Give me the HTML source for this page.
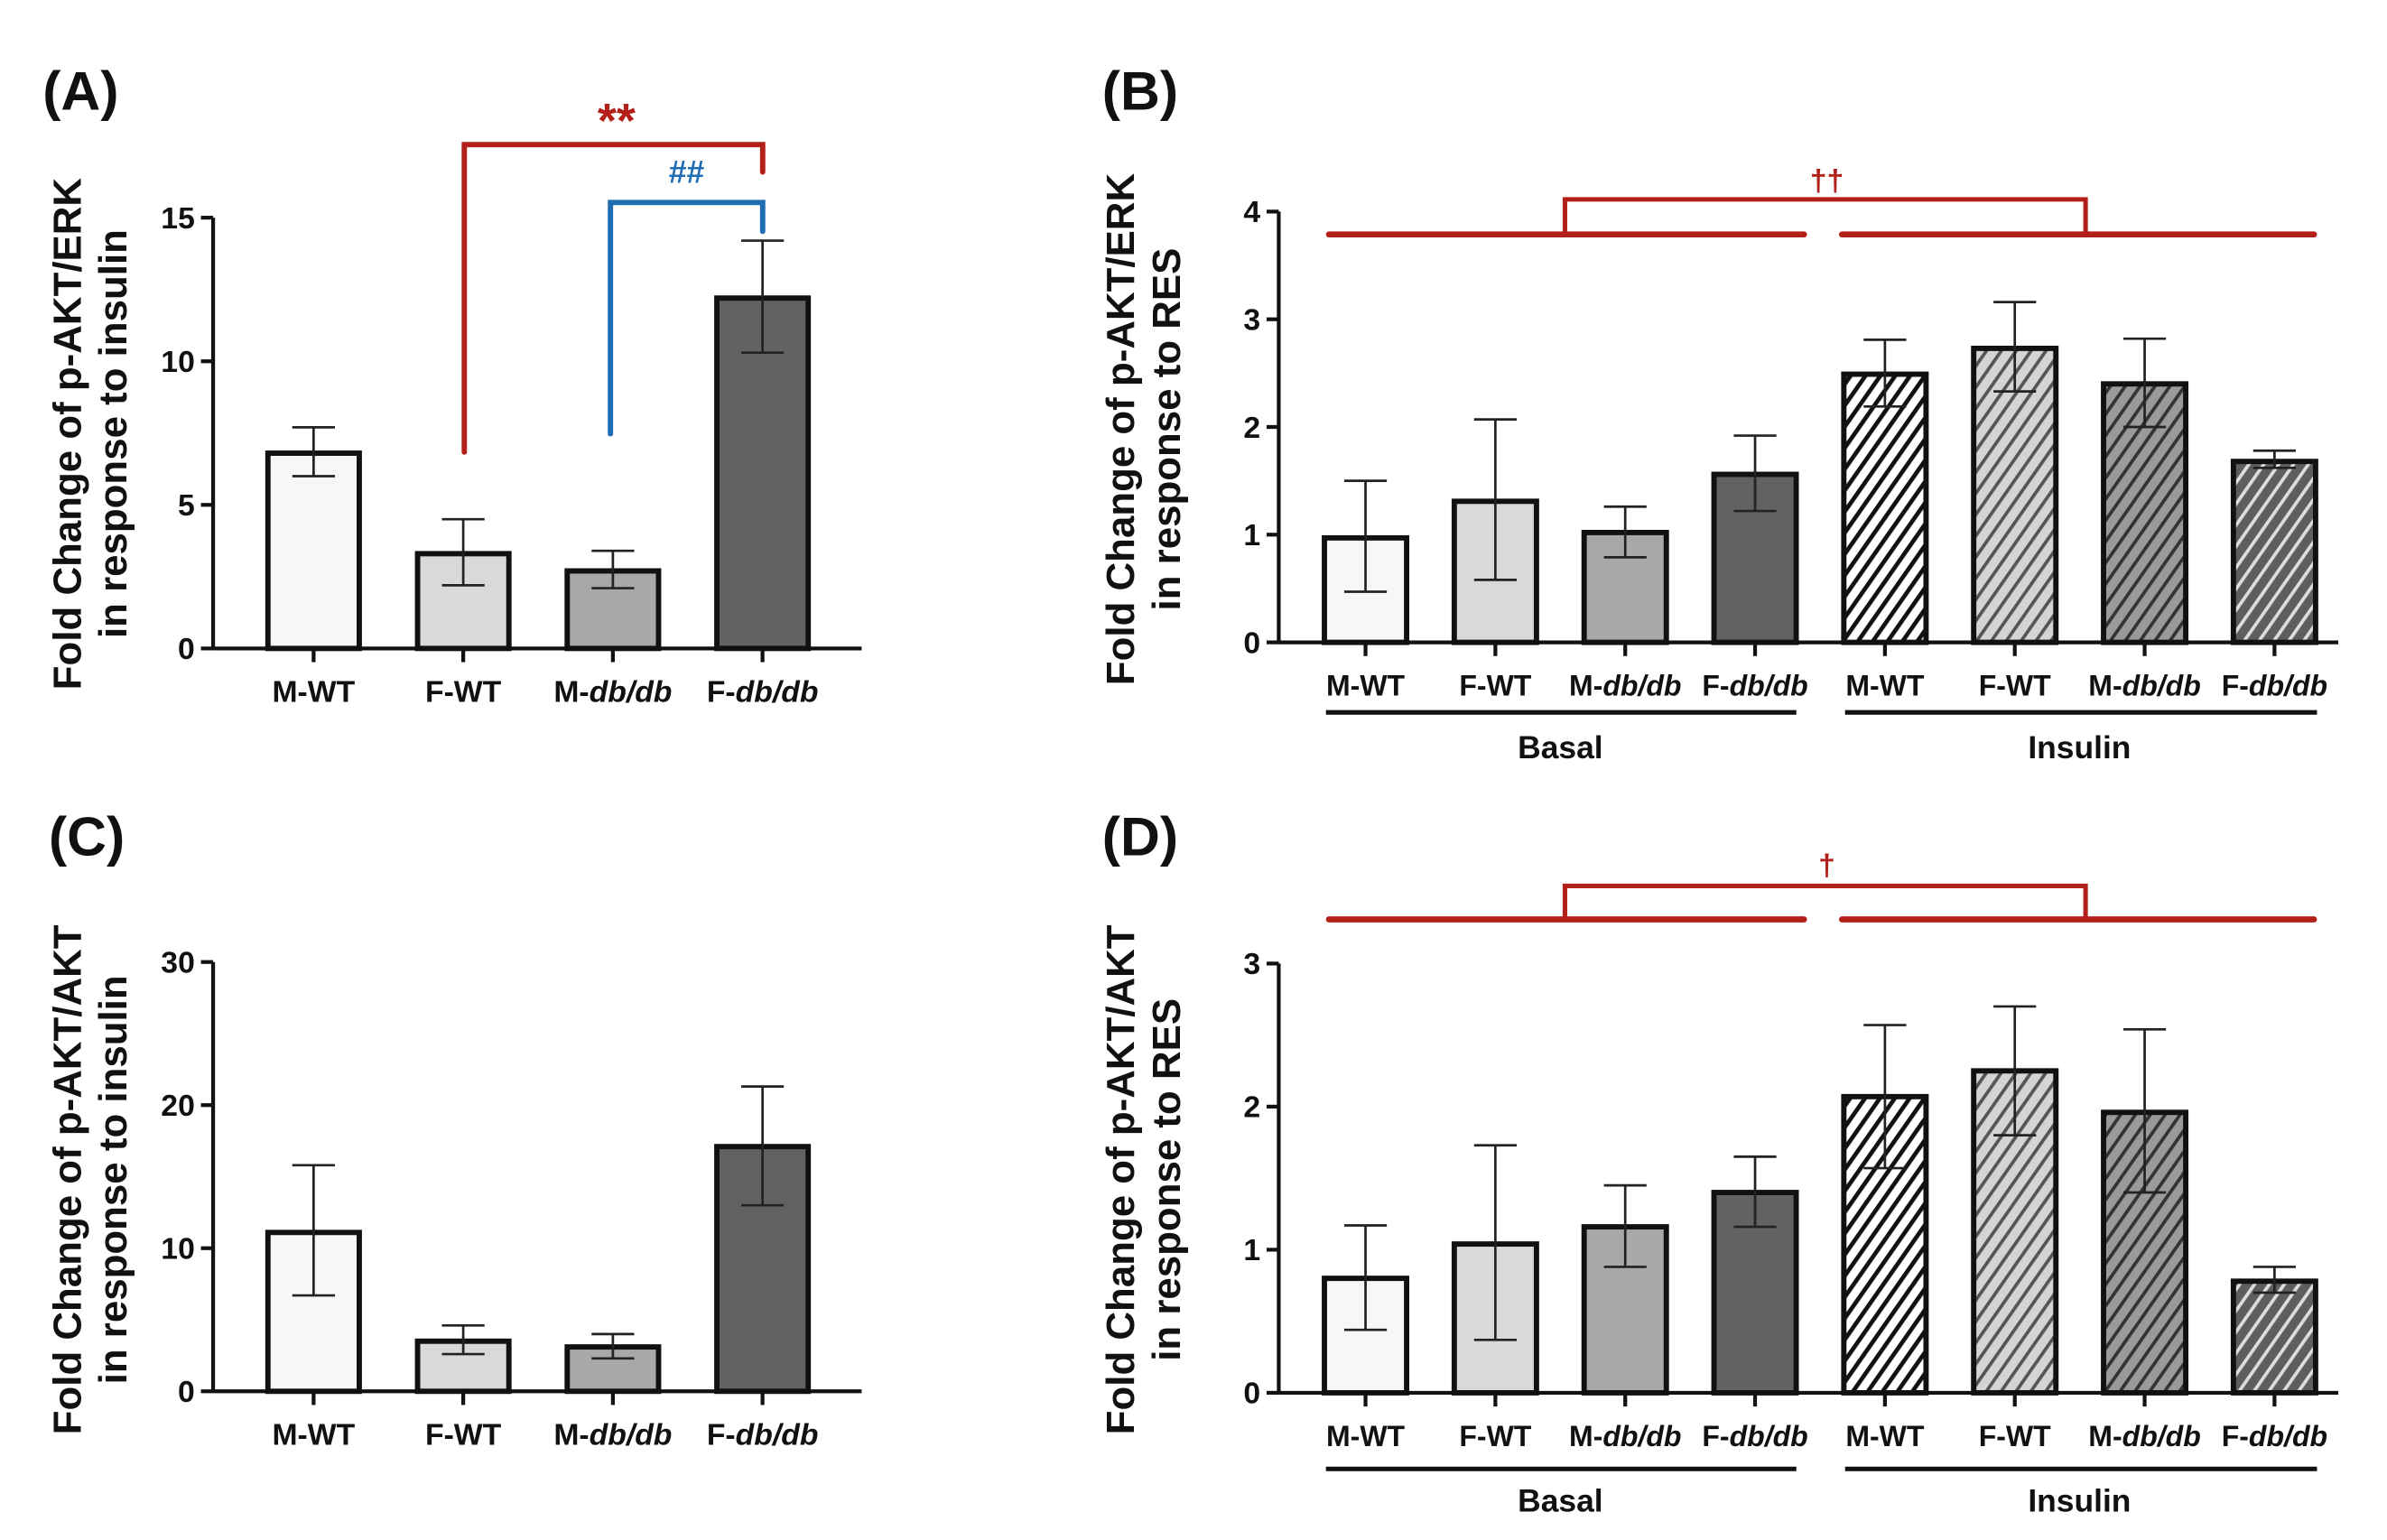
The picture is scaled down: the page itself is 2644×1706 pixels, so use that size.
<!DOCTYPE html>
<html><head><meta charset="utf-8"><style>
html,body{margin:0;padding:0;background:#fff;}
svg{display:block;font-family:"Liberation Sans",Arial,sans-serif;}
</style></head><body>
<svg id="fig" width="2644" height="1706" viewBox="0 0 1568 1011.7" preserveAspectRatio="none" xmlns="http://www.w3.org/2000/svg">
<defs>
<pattern id="h0" patternUnits="userSpaceOnUse" width="8" height="8" patternTransform="rotate(35)"><rect width="8" height="8" fill="#fff"/><rect width="2.8" height="8" fill="#111"/></pattern>
<pattern id="h1" patternUnits="userSpaceOnUse" width="8" height="8" patternTransform="rotate(35)"><rect width="8" height="8" fill="#d4d4d4"/><rect width="2.2" height="8" fill="#555"/></pattern>
<pattern id="h2" patternUnits="userSpaceOnUse" width="8" height="8" patternTransform="rotate(35)"><rect width="8" height="8" fill="#9a9a9a"/><rect width="2.2" height="8" fill="#333"/></pattern>
<pattern id="h3" patternUnits="userSpaceOnUse" width="8" height="8" patternTransform="rotate(35)"><rect width="8" height="8" fill="#5e5e5e"/><rect width="2.2" height="8" fill="#ddd"/></pattern>
</defs>
</svg>
<script>
// Panel A data
const catsA = ["M-WT","F-WT","M-db/db","F-db/db"];
const meanA = [6.8, 3.3, 2.7, 12.2];
const lowA = [6.0, 2.2, 2.1, 10.3];
const highA = [7.7, 4.5, 3.4, 14.2];
const ticksA = [0,5,10,15];
// Panel C data
const meanC = [11.1, 3.5, 3.1, 17.1];
const lowC = [6.7, 2.6, 2.3, 13.0];
const highC = [15.8, 4.6, 4.0, 21.3];
const ticksC = [0,10,20,30];
// Panel B data
const catsB = ["M-WT","F-WT","M-db/db","F-db/db","M-WT","F-WT","M-db/db","F-db/db"];
const meanB = [0.97, 1.31, 1.02, 1.56, 2.49, 2.73, 2.40, 1.68];
const lowB = [0.47, 0.58, 0.79, 1.22, 2.19, 2.33, 2.00, 1.62];
const highB = [1.50, 2.07, 1.26, 1.92, 2.81, 3.16, 2.82, 1.78];
const ticksB = [0,1,2,3,4];
// Panel D data
const meanD = [0.80, 1.04, 1.16, 1.40, 2.07, 2.25, 1.96, 0.78];
const lowD = [0.44, 0.37, 0.88, 1.16, 1.57, 1.80, 1.40, 0.70];
const highD = [1.17, 1.73, 1.45, 1.65, 2.57, 2.70, 2.54, 0.88];
const ticksD = [0,1,2,3];
const groups = ["Basal","Insulin"];

const svg = document.getElementById('fig');
const NS = "http://www.w3.org/2000/svg";
function mk(tag, attrs, parent){
  const e = document.createElementNS(NS, tag);
  for (const k in attrs) e.setAttribute(k, attrs[k]);
  (parent||svg).appendChild(e);
  return e;
}
const fills = ["#f7f7f7","#d9d9d9","#a8a8a8","#626262","url(#h0)","url(#h1)","url(#h2)","url(#h3)"];

function labelText(g, x, y, name, size){
  const t = mk('text',{x:x,y:y,'text-anchor':'middle','font-size':size,'font-weight':'bold',fill:'#111'},g);
  const parts = name.split('-');
  const a = document.createElementNS(NS,'tspan'); a.textContent = parts[0]+'-'; t.appendChild(a);
  const b = document.createElementNS(NS,'tspan'); b.textContent = parts[1];
  if (parts[1] !== 'WT') b.setAttribute('font-style','italic');
  t.appendChild(b);
  return t;
}

function panel(id, o){
  const g = mk('g',{});
  
  
  const ymax = o.ticks[o.ticks.length-1];
  const ys = v => o.y0 - (v/ymax)*(o.y0-o.yTop);
  const xs = i => o.x1 + i*o.step;
  const ya = mk('line',{x1:o.ax,y1:o.yTop,x2:o.ax,y2:o.y0,stroke:'#111','stroke-width':2.5},g);
   
  const xa = mk('line',{x1:o.ax,y1:o.y0,x2:o.axEnd,y2:o.y0,stroke:'#111','stroke-width':2.5},g);
   
  o.ticks.forEach(t=>{
    mk('line',{x1:o.ax-8,y1:ys(t),x2:o.ax,y2:ys(t),stroke:'#111','stroke-width':2.5},g);
    const tl = mk('text',{x:o.ax-12,y:ys(t)+7,'text-anchor':'end','font-size':20,'font-weight':'bold',fill:'#111'},g);
    tl.textContent = t;
     
  });
  o.mean.forEach((m,i)=>{
    const cx = xs(i);
    const r = mk('rect',{x:cx-o.bw/2,y:ys(m),width:o.bw,height:o.y0-ys(m),fill:fills[i],stroke:'#111','stroke-width':3.5},g);
     
    const eb = mk('path',{d:`M${cx},${ys(o.low[i])}V${ys(o.high[i])}M${cx-14},${ys(o.high[i])}H${cx+14}M${cx-14},${ys(o.low[i])}H${cx+14}`,stroke:'#222','stroke-width':1.6,fill:'none'},g);
     
    mk('line',{x1:cx,y1:o.y0,x2:cx,y2:o.y0+9,stroke:'#111','stroke-width':2.5},g);
    const xl = labelText(g, cx, o.y0+35, o.cats[i], o.xfs);
     
  });
  const tt = mk('text',{transform:`translate(${o.tx},${o.ty}) rotate(-90)`,'text-anchor':'middle','font-size':26,'font-weight':'bold',fill:'#111'},g);
   
  const s1 = document.createElementNS(NS,'tspan'); s1.setAttribute('x',0); s1.setAttribute('y',0); s1.textContent = o.title[0]; tt.appendChild(s1);
  const s2 = document.createElementNS(NS,'tspan'); s2.setAttribute('x',0); s2.setAttribute('y',30); s2.textContent = o.title[1]; tt.appendChild(s2);
  const L = mk('text',{x:o.lx,y:o.ly,'font-size':36,'font-weight':'bold',fill:'#111'},g);
  L.textContent = '('+id+')';
   
  return {ys, xs};
}

panel('A',{cats:catsA,mean:meanA,low:lowA,high:highA,ticks:ticksA,ax:140,axEnd:566,y0:426,yTop:143,x1:206,step:98.3,bw:60,xfs:20,tx:53,ty:285,title:["Fold Change of p-AKT/ERK","in response to insulin"],lx:28,ly:72});
panel('C',{cats:catsA,mean:meanC,low:lowC,high:highC,ticks:ticksC,ax:140,axEnd:566,y0:914,yTop:632,x1:206,step:98.3,bw:60,xfs:20,tx:53,ty:775,title:["Fold Change of p-AKT/AKT","in response to insulin"],lx:32,ly:562});
panel('B',{cats:catsB,mean:meanB,low:lowB,high:highB,ticks:ticksB,ax:840,axEnd:1536,y0:422,yTop:139,x1:897,step:85.3,bw:54,xfs:19,tx:745,ty:282,title:["Fold Change of p-AKT/ERK","in response to RES"],lx:724,ly:72});
panel('D',{cats:catsB,mean:meanD,low:lowD,high:highD,ticks:ticksD,ax:840,axEnd:1536,y0:915,yTop:633,x1:897,step:85.3,bw:54,xfs:19,tx:745,ty:775,title:["Fold Change of p-AKT/AKT","in response to RES"],lx:724,ly:562});

[[468,490],[965,985]].forEach(([ly,ty])=>{
  [[871,1180,1025],[1212,1522,1366]].forEach(([a,b,c],k)=>{
    const l = mk('line',{x1:a,y1:ly,x2:b,y2:ly,stroke:'#111','stroke-width':3});
     
    const t = mk('text',{x:c,y:ty+8,'text-anchor':'middle','font-size':21,'font-weight':'bold',fill:'#111'});
    t.textContent = groups[k];
     
  });
});

const red = '#b3201a', blue = '#1f6db3';
function path(d,c,w,name){ const p = mk('path',{d:d,stroke:c,'stroke-width':w,fill:'none','stroke-linecap':'round'});   return p; }
function txt(x,y,s,c,size,name){ const t = mk('text',{x:x,y:y,'text-anchor':'middle','font-size':size,'font-weight':'bold',fill:c}); t.textContent=s;   return t; }
path('M305,297V95H501V113',red,3.5,'sig-bracket-red');
txt(405,90,'**',red,32,'sig-stars');
path('M401,285V133H501V152',blue,3.5,'sig-bracket-blue');
txt(451,120,'##',blue,21,'sig-hash');
[[154,131,117,'††'],[604,582,567,'†']].forEach(([y,top,ty,s])=>{
  path(`M873,${y}H1185M1210,${y}H1520`,red,4,'sig-group-lines');
  path(`M1028,${y}V${top}H1370V${y}`,red,3,'sig-bracket');
  txt(1200,ty+8,s,red,20,'sig-dagger');
});
</script>
</body></html>
